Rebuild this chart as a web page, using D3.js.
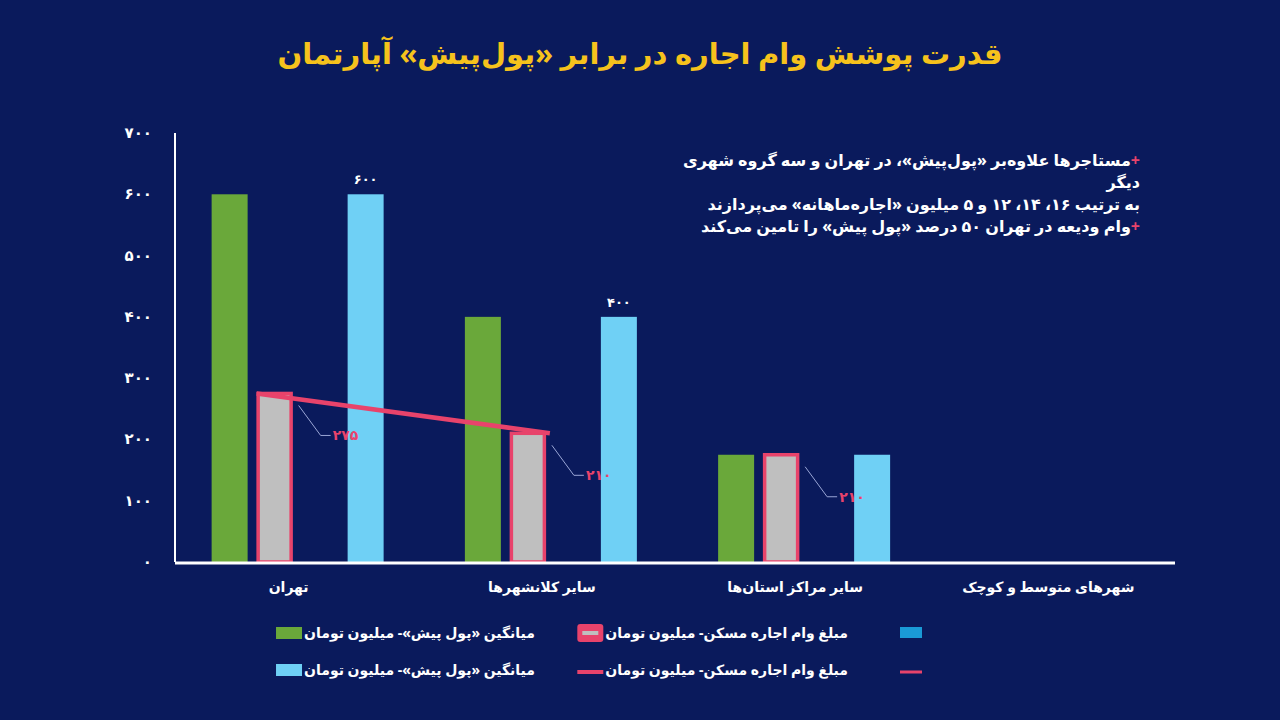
<!DOCTYPE html>
<html><head><meta charset="utf-8">
<script src="https://cdn.jsdelivr.net/npm/d3@7"></script>
<style>body{margin:0;background:#0a1a5c;}svg{display:block;font-family:"Noto Sans","DejaVu Sans",sans-serif;}</style>
</head><body><div id="chart"></div>
<script>
// data
const categories = ["تهران", "سایر کلانشهرها", "سایر مراکز استان‌ها", "شهرهای متوسط و کوچک"];
const pishGreen = [600, 400, 175, null];
const loanGrey = [275, 210, 175, null];
const pishBlue = [600, 400, 175, null];
const valueLabels = ["۲۷۵", "۲۱۰", "۲۱۰", null];
const blueTopLabels = ["۶۰۰", "۴۰۰", null, null];
const yTicks = [0, 100, 200, 300, 400, 500, 600, 700];
const faDigits = n => String(n).replace(/\d/g, d => "۰۱۲۳۴۵۶۷۸۹"[d]);

const W = 1280, H = 720;
const svg = d3.select("#chart").append("svg").attr("width", W).attr("height", H);
svg.append("rect").attr("width", W).attr("height", H).attr("fill", "#0a1a5c");

// title
svg.append("text").attr("x", 640).attr("y", 64).attr("text-anchor", "middle")
  .attr("fill", "#f6c21c").attr("font-size", 29).attr("font-weight", 700)
  .attr("direction", "rtl").text("قدرت پوشش وام اجاره در برابر «پول‌پیش» آپارتمان");

const x = d3.scaleBand().domain(categories).range([162, 1175]);
const y = d3.scaleLinear().domain([0, 700]).range([562, 133]);
const barW = 36;
const off = { green: -59, grey: -14, blue: 77 };
const cx = c => x(c) + x.bandwidth() / 2;

// y axis
svg.append("line").attr("x1", 175).attr("x2", 175).attr("y1", 133).attr("y2", 562)
  .attr("stroke", "#fff").attr("stroke-width", 2);
svg.append("g").selectAll("text").data(yTicks).join("text")
  .attr("x", 152).attr("y", d => y(d) + 5).attr("text-anchor", "end")
  .attr("fill", "#fff").attr("font-size", 15).attr("font-weight", 700)
  .text(d => faDigits(d));

// bars
function bars(vals, key, fill, stroke) {
  svg.append("g").selectAll("rect").data(categories.map((c, i) => ({ c, v: vals[i] })).filter(d => d.v != null))
    .join("rect")
    .attr("x", d => cx(d.c) + off[key] - barW / 2 + (stroke ? 1.5 : 0))
    .attr("y", d => y(d.v))
    .attr("width", barW - (stroke ? 3 : 0))
    .attr("height", d => y(0) - y(d.v))
    .attr("fill", fill)
    .attr("stroke", stroke || "none").attr("stroke-width", 3.5);
}
bars(pishGreen, "green", "#6aa83a");
bars(loanGrey, "grey", "#bfbfbf", "#e8436b");
bars(pishBlue, "blue", "#6fd0f5");

// x axis baseline
svg.append("line").attr("x1", 175).attr("x2", 1175).attr("y1", 563).attr("y2", 563)
  .attr("stroke", "#fff").attr("stroke-width", 3);
svg.append("g").selectAll("text").data(categories).join("text")
  .attr("x", d => cx(d)).attr("y", 592).attr("text-anchor", "middle")
  .attr("fill", "#fff").attr("font-size", 14).attr("font-weight", 700)
  .attr("direction", "rtl").text(d => d);

// blue bar top labels
svg.append("g").selectAll("text").data(categories.map((c, i) => ({ c, t: blueTopLabels[i], v: pishBlue[i] })).filter(d => d.t))
  .join("text").attr("x", d => cx(d.c) + off.blue).attr("y", d => y(d.v) - 10)
  .attr("text-anchor", "middle").attr("fill", "#fff").attr("font-size", 13).attr("font-weight", 700)
  .text(d => d.t);

// loan line (first two categories)
const lineData = [
  [cx(categories[0]) + off.grey - barW / 2, y(loanGrey[0])],
  [cx(categories[1]) + off.grey + barW / 2 + 4, y(loanGrey[1])]
];
svg.append("path").attr("d", d3.line()(lineData)).attr("fill", "none")
  .attr("stroke", "#e8436b").attr("stroke-width", 4.5);

// value labels with leader lines
categories.forEach((c, i) => {
  if (!valueLabels[i]) return;
  const x0 = cx(c) + off.grey + barW / 2 + 6, y0 = y(loanGrey[i]) + 12;
  const pts = [[x0, y0], [x0 + 22, y0 + 30], [x0 + 32, y0 + 30]];
  svg.append("path").attr("d", d3.line()(pts)).attr("fill", "none")
    .attr("stroke", "#9aa6d6").attr("stroke-width", 1);
  svg.append("text").attr("x", x0 + 34).attr("y", y0 + 35)
    .attr("fill", "#e8436b").attr("font-size", 14).attr("font-weight", 700).text(valueLabels[i]);
});

// annotation
const notes = [
  ["+", "مستاجرها علاوه‌بر «پول‌پیش»، در تهران و سه گروه شهری"],
  ["", "دیگر"],
  ["", "به ترتیب ۱۶، ۱۴، ۱۲ و ۵ میلیون «اجاره‌ماهانه» می‌پردازند"],
  ["+", "وام ودیعه در تهران ۵۰ درصد «پول پیش» را تامین می‌کند"]
];
notes.forEach((n, i) => {
  const t = svg.append("text").attr("x", 1140).attr("y", 166 + i * 22)
    .attr("text-anchor", "start").attr("direction", "rtl")
    .attr("fill", "#fff").attr("font-size", 16).attr("font-weight", 700);
  if (n[0]) t.append("tspan").attr("fill", "#e8436b").text(n[0]);
  t.append("tspan").text(n[1]);
});

// legend: text right-aligned at tx, swatch placed just left of the text
const legend = [
  { tx: 535, y: 633, text: "میانگین «پول پیش»- میلیون تومان", type: "rect", fill: "#6aa83a" },
  { tx: 848, y: 633, text: "مبلغ وام اجاره مسکن- میلیون تومان", type: "greyrect" },
  { tx: 535, y: 670, text: "میانگین «پول پیش»- میلیون تومان", type: "rect", fill: "#6fd0f5" },
  { tx: 848, y: 670, text: "مبلغ وام اجاره مسکن- میلیون تومان", type: "line" }
];
legend.forEach(l => {
  const t = svg.append("text").attr("x", l.tx).attr("y", l.y + 5).attr("direction", "rtl")
    .attr("fill", "#fff").attr("font-size", 14).attr("font-weight", 700).text(l.text);
  const sx = l.tx - t.node().getComputedTextLength() - 28;
  if (l.type === "rect") svg.append("rect").attr("x", sx).attr("y", l.y - 6).attr("width", 26).attr("height", 12).attr("fill", l.fill);
  if (l.type === "greyrect") {
    svg.append("rect").attr("x", sx).attr("y", l.y - 9).attr("width", 26).attr("height", 18).attr("rx", 3).attr("fill", "#e8436b");
    svg.append("rect").attr("x", sx + 5).attr("y", l.y - 2).attr("width", 16).attr("height", 4).attr("fill", "#bfbfbf");
  }
  if (l.type === "line") svg.append("line").attr("x1", sx).attr("x2", sx + 26).attr("y1", l.y + 2).attr("y2", l.y + 2).attr("stroke", "#e8436b").attr("stroke-width", 4);
});
svg.append("rect").attr("x", 900).attr("y", 627).attr("width", 22).attr("height", 11).attr("fill", "#1a9ad6");
svg.append("line").attr("x1", 900).attr("x2", 922).attr("y1", 672).attr("y2", 672).attr("stroke", "#e8436b").attr("stroke-width", 3);
</script></body></html>
